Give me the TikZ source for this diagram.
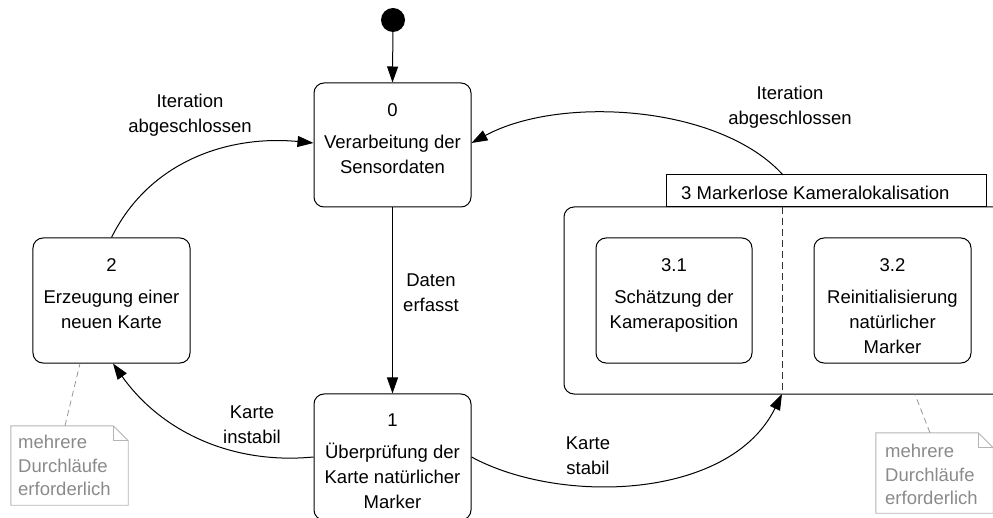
\documentclass[tikz,border=0pt]{standalone}
\usepackage{fontspec}
\setmainfont{Liberation Sans}
\usetikzlibrary{arrows.meta,calc}
\definecolor{noteline}{RGB}{180,180,180}
\definecolor{notetxt}{RGB}{138,138,138}
\definecolor{linkgray}{RGB}{150,150,150}
\begin{document}
\begin{tikzpicture}[x=1bp,y=-1bp,
  every node/.style={inner sep=0pt, font=\fontsize{18.5bp}{25bp}\selectfont},
  statebox/.style={draw, rounded corners=10bp, line width=1bp},
  statetext/.style={anchor=north, align=center},
  edgelabel/.style={align=center},
  flow/.style={line width=1bp, -{Triangle[length=16bp,width=11bp]}},
  noteshape/.style={draw=noteline, line width=0.9bp},
  notetext/.style={anchor=north west, align=left, text=notetxt,
    font=\fontsize{18.5bp}{23.5bp}\selectfont},
  notelink/.style={draw=linkgray, line width=0.8bp, dash pattern=on 6bp off 4bp},
  divider/.style={draw=black!80, line width=0.9bp, dash pattern=on 7bp off 4bp},
]
\useasboundingbox (0,0) rectangle (993,518);
\clip (0,0) rectangle (993,518);

% initial pseudo state
\node[circle, fill=black, minimum size=24bp] (init) at (393,20) {};

% simple states
\node[statebox, minimum width=157bp, minimum height=124bp] (s0) at (392.5,145) {};
\node[statetext] at ([yshift=-20.5bp]s0.north) {0\\[7bp]Verarbeitung der\\Sensordaten};

\node[statebox, minimum width=157bp, minimum height=126bp] (s1) at (392.5,457) {};
\node[statetext] at ([yshift=-20.5bp]s1.north) {1\\[7bp]Überprüfung der\\Karte natürlicher\\Marker};

\node[statebox, minimum width=157bp, minimum height=125bp] (s2) at (111.5,300.5) {};
\node[statetext] at ([yshift=-20.5bp]s2.north) {2\\[7bp]Erzeugung einer\\neuen Karte};

% composite state with its name tab
\node[statebox, minimum width=446bp, minimum height=187bp] (s3) at (787,300.5) {};
\node[draw, line width=1bp, fill=white, minimum width=320bp, minimum height=32bp] (tab) at (826,191) {};
\node[anchor=base west] at (681,200) {3 Markerlose Kameralokalisation};
\coordinate (d1) at (782,207);
\coordinate (d2) at (782,394);
\draw[divider] (d1) -- (d2);

\node[statebox, minimum width=156bp, minimum height=125bp] (s31) at (674,300.5) {};
\node[statetext] at ([yshift=-20.5bp]s31.north) {3.1\\[7bp]Schätzung der\\Kameraposition};

\node[statebox, minimum width=157bp, minimum height=125bp] (s32) at (892.5,300.5) {};
\node[statetext] at ([yshift=-20.5bp]s32.north) {3.2\\[7bp]Reinitialisierung\\natürlicher\\Marker};

% transitions
\draw[flow] (init) -- (s0.north);
\draw[flow] (s0.south) -- (s1.north);
\node[edgelabel] at (431,292.5) {Daten\\erfasst};

\draw[flow] (s1.west) .. controls (230,465) and (160,430) .. ([xshift=1.5bp]s2.south);
\node[edgelabel] at (252,424.5) {Karte\\instabil};

\draw[flow] (s2.north) .. controls (150,160) and (230,135) .. ([yshift=2bp]s0.west);
\node[edgelabel] at (190,115) {Iteration\\abgeschlossen};

\draw[flow] (s1.east) .. controls (560,505) and (730,500) .. (d2);
\node[edgelabel] at (588,455.5) {Karte\\stabil};

\coordinate (t3) at (783,175);
\draw[flow] (t3) .. controls (720,105) and (560,95) .. ([yshift=2bp]s0.east);
\node[edgelabel] at (790,107) {Iteration\\abgeschlossen};

% notes
\node[minimum width=117bp, minimum height=79bp] (n2) at (69.5,465.5) {};
\draw[noteshape] (n2.north west) -- ($(n2.north east)+(-15bp,0)$) -- ($(n2.north east)+(0,-15bp)$)
  -- (n2.south east) -- (n2.south west) -- cycle;
\draw[noteshape] ($(n2.north east)+(-15bp,0)$) -- ($(n2.north east)+(-15bp,-15bp)$) -- ($(n2.north east)+(0,-15bp)$);
\node[notetext] at (18,435) {mehrere\\Durchläufe\\erforderlich};
\draw[notelink] ([xshift=-4.5bp]n2.north) -- ([xshift=-31.5bp]s2.south);

\node[minimum width=117bp, minimum height=80bp] (n3) at (934.5,473) {};
\draw[noteshape] (n3.north west) -- ($(n3.north east)+(-15bp,0)$) -- ($(n3.north east)+(0,-15bp)$)
  -- (n3.south east) -- (n3.south west) -- cycle;
\draw[noteshape] ($(n3.north east)+(-15bp,0)$) -- ($(n3.north east)+(-15bp,-15bp)$) -- ($(n3.north east)+(0,-15bp)$);
\node[notetext] at (885,444) {mehrere\\Durchläufe\\erforderlich};
\draw[notelink] ([xshift=-4.5bp]n3.north) -- ([xshift=128bp]s3.south);
\end{tikzpicture}
\end{document}
